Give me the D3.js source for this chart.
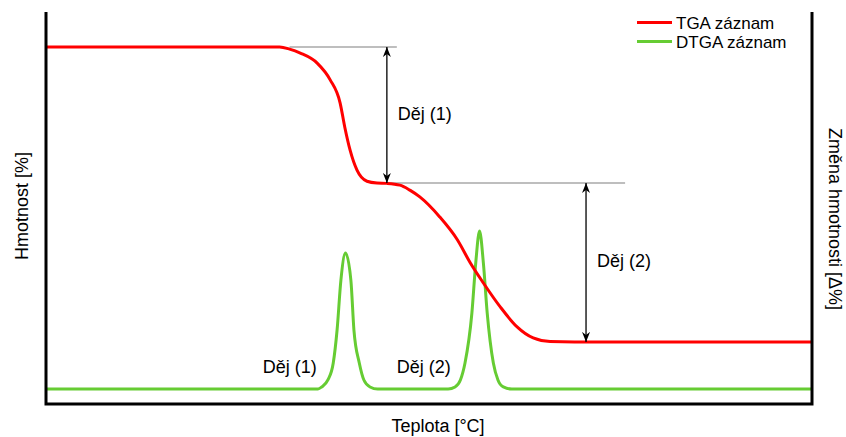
<!DOCTYPE html>
<html lang="cs">
<head>
  <meta charset="UTF-8">
  <title>TGA / DTGA záznam</title>
  <script src="https://d3js.org/d3.v7.min.js"></script>
  <style>
    body { margin: 0; background: #fff; }
    svg { display: block; font-family: "Liberation Sans", Arial, sans-serif; }
    .lbl { font-size: 18px; fill: #000; }
    .leg { font-size: 17px; fill: #000; }
  </style>
</head>
<body>
  <svg width="846" height="437"></svg>

  <script>
    // TGA record: temperature (arbitrary units) vs mass [%]
    const tgaTemp = [0, 280, 305, 318, 332, 354, 371, 384, 390, 397, 406, 419, 432, 445, 462, 475, 488, 514, 537, 554, 571, 593, 615, 636, 658, 690, 1000];
    const tgaMass = [100, 100, 100, 99.4, 98.3, 95.5, 90.8, 84.3, 77.6, 71.1, 65.5, 62.4, 61.9, 61.8, 61.3, 59.9, 58.0, 52.4, 46.0, 39.5, 33.9, 27.2, 21.6, 18.5, 17.5, 17.4, 17.4];

    // DTGA record: temperature vs mass change rate
    const dtgaTemp = [0, 355, 360, 368, 375, 380, 385, 391, 398, 402, 409, 415, 423, 433,
                      525, 534, 541, 547, 556, 561, 566, 571, 576, 584, 590, 597, 608, 1000];
    const dtgaRate = [0, 0, 0.12, 0.53, 1.53, 3.47, 6.41, 8.0, 6.41, 3.47, 1.53, 0.53, 0.12, 0,
                      0, 0.12, 0.53, 1.53, 4.47, 7.41, 9.29, 7.41, 4.47, 1.53, 0.53, 0.12, 0, 0];

    // mass steps (arrows between plateaus)
    const stepNames = ["Děj (1)", "Děj (2)"];
    const stepTemp = [445, 705];
    const stepFrom = [100, 61.9];
    const stepTo = [61.9, 17.4];
    const stepGuideStart = [318, 445];
    const stepGuideEnd = [458, 756];
    const stepLabelMass = [79.6, 38.4];

    // DTGA peak labels
    const peakNames = ["Děj (1)", "Děj (2)"];
    const peakLabelTemp = [283, 458];
    const peakLabelRate = [0.94, 0.94];

    const legendNames = ["TGA záznam", "DTGA záznam"];
    const colors = ["#ff0000", "#66cc33"];

    const svg = d3.select("svg");
    const plotLeft = 46, plotRight = 812, plotTop = 12, plotBottom = 404;

    const x = d3.scaleLinear().domain([0, 1000]).range([plotLeft, plotRight]);
    const yMass = d3.scaleLinear().domain([0, 100]).range([plotBottom, 47]);
    const yRate = d3.scaleLinear().domain([0, 10]).range([389, 219]);

    // arrow head
    const defs = svg.append("defs");
    ["arrEnd", "arrStart"].forEach((id, i) => {
      defs.append("marker")
        .attr("id", id)
        .attr("viewBox", "0 0 10 8")
        .attr("refX", 10).attr("refY", 4)
        .attr("markerWidth", 10).attr("markerHeight", 8)
        .attr("markerUnits", "userSpaceOnUse")
        .attr("orient", i === 0 ? "auto" : "auto-start-reverse")
        .append("path")
        .attr("d", "M0,0 L10,4 L0,8 L3,4 Z")
        .attr("fill", "#000");
    });

    // grey guide lines
    svg.selectAll(".guide")
      .data(stepNames)
      .join("line")
      .attr("class", "guide")
      .attr("x1", (d, i) => x(stepGuideStart[i]))
      .attr("x2", (d, i) => x(stepGuideEnd[i]))
      .attr("y1", (d, i) => yMass(stepFrom[i]))
      .attr("y2", (d, i) => yMass(stepFrom[i]))
      .attr("stroke", "#a8a8a8")
      .attr("stroke-width", 1.6);

    // DTGA curve
    const dtgaData = dtgaTemp.map((t, i) => ({ t, v: dtgaRate[i] }));
    svg.append("path")
      .datum(dtgaData)
      .attr("fill", "none")
      .attr("stroke", colors[1])
      .attr("stroke-width", 3)
      .attr("d", d3.line().x(d => x(d.t)).y(d => yRate(d.v)).curve(d3.curveMonotoneX));

    // TGA curve
    const tgaData = tgaTemp.map((t, i) => ({ t, v: tgaMass[i] }));
    svg.append("path")
      .datum(tgaData)
      .attr("fill", "none")
      .attr("stroke", colors[0])
      .attr("stroke-width", 3)
      .attr("d", d3.line().x(d => x(d.t)).y(d => yMass(d.v)).curve(d3.curveMonotoneX));

    // step arrows
    svg.selectAll(".step")
      .data(stepNames)
      .join("line")
      .attr("class", "step")
      .attr("x1", (d, i) => x(stepTemp[i]))
      .attr("x2", (d, i) => x(stepTemp[i]))
      .attr("y1", (d, i) => yMass(stepFrom[i]))
      .attr("y2", (d, i) => yMass(stepTo[i]))
      .attr("stroke", "#000")
      .attr("stroke-width", 1.3)
      .attr("marker-start", "url(#arrStart)")
      .attr("marker-end", "url(#arrEnd)");

    svg.selectAll(".stepLabel")
      .data(stepNames)
      .join("text")
      .attr("class", "lbl stepLabel")
      .attr("x", (d, i) => x(stepTemp[i]) + 11)
      .attr("y", (d, i) => yMass(stepLabelMass[i]))
      .text(d => d);

    svg.selectAll(".peakLabel")
      .data(peakNames)
      .join("text")
      .attr("class", "lbl peakLabel")
      .attr("x", (d, i) => x(peakLabelTemp[i]))
      .attr("y", (d, i) => yRate(peakLabelRate[i]))
      .text(d => d);

    // frame: left, bottom, right
    svg.append("path")
      .attr("d", `M${plotLeft},${plotTop} V${plotBottom} H${plotRight} V${plotTop}`)
      .attr("fill", "none")
      .attr("stroke", "#000")
      .attr("stroke-width", 3);

    // axis labels
    svg.append("text")
      .attr("class", "lbl")
      .attr("text-anchor", "middle")
      .attr("x", 438)
      .attr("y", 432)
      .text("Teplota [°C]");

    svg.append("text")
      .attr("class", "lbl")
      .attr("text-anchor", "middle")
      .attr("transform", "translate(28,206) rotate(-90)")
      .text("Hmotnost [%]");

    svg.append("text")
      .attr("class", "lbl")
      .attr("text-anchor", "middle")
      .attr("transform", "translate(829,219) rotate(90)")
      .text("Změna hmotnosti [Δ%]");

    // legend
    const legend = svg.selectAll(".legend")
      .data(legendNames)
      .join("g")
      .attr("class", "legend")
      .attr("transform", (d, i) => `translate(637,${22.5 + i * 19})`);

    legend.append("line")
      .attr("x1", 0).attr("x2", 35)
      .attr("stroke", (d, i) => colors[i])
      .attr("stroke-width", 3);

    legend.append("text")
      .attr("class", "leg")
      .attr("x", 39)
      .attr("y", 6)
      .text(d => d);
  </script>
</body>
</html>
